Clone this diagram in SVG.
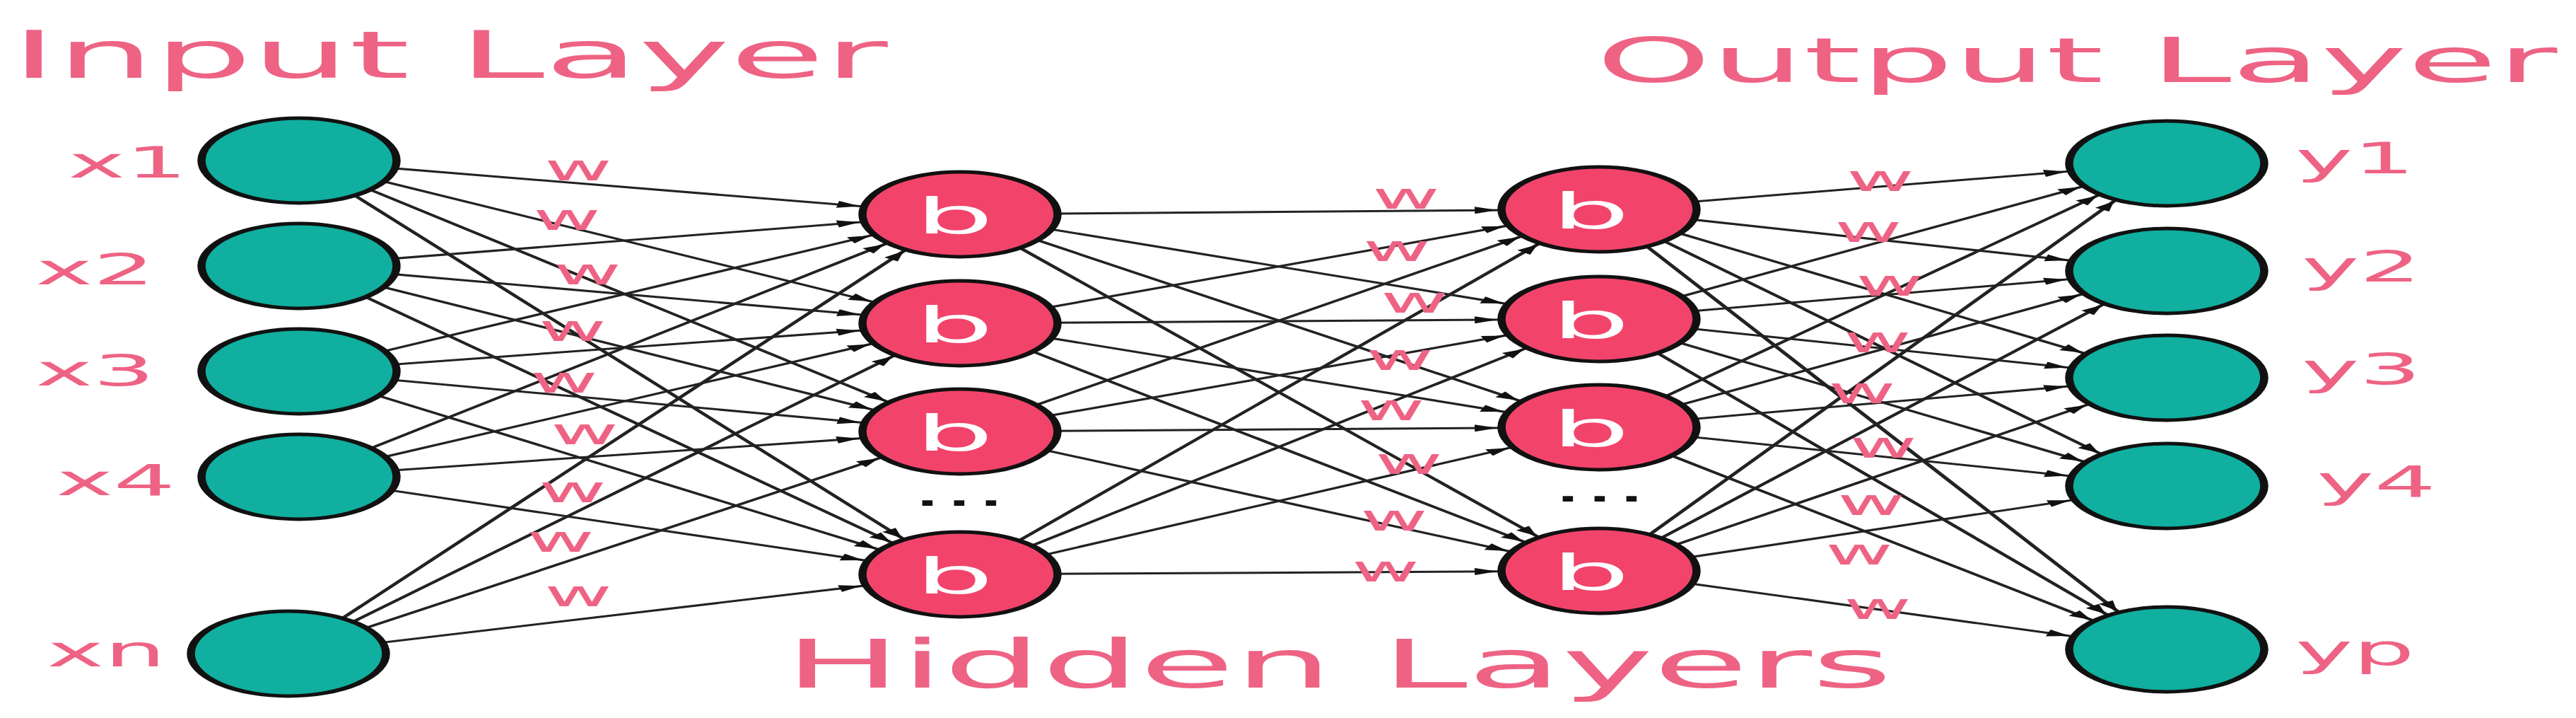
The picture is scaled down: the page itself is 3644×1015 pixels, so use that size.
<svg xmlns="http://www.w3.org/2000/svg" width="3644" height="1015" viewBox="0 0 3644 1015">
<style>
.t{font-family:"DejaVu Sans","Liberation Sans",sans-serif;fill:#EE6384;}
.title{font-size:93px;}
.lbl{font-size:60px;}
.w{font-size:51px;}
.b{font-family:"DejaVu Sans","Liberation Sans",sans-serif;fill:#ffffff;font-size:70px;text-anchor:middle;}
.dots{font-family:"DejaVu Sans","Liberation Sans",sans-serif;fill:#111;font-size:62px;text-anchor:middle;}
.io{fill:#10AF9F;stroke:#111;stroke-width:5;}
.hid{fill:#F2446B;stroke:#111;stroke-width:5;}
.edge line{stroke:#222;stroke-width:3;marker-end:url(#arr);}
</style>
<defs>
<marker id="arr" markerUnits="userSpaceOnUse" viewBox="0 0 80 12" markerWidth="80" markerHeight="12" refX="76.5" refY="6" orient="auto" overflow="visible">
<path d="M0,1 L14,6 L0,11 z" fill="#111"/>
</marker>
</defs>
<rect width="3644" height="1015" fill="#ffffff"/>

<g id="connectors" class="edge" transform="scale(2.3 1)">
<line x1="184" y1="227" x2="590.4" y2="303"/>
<line x1="184" y1="227" x2="590.4" y2="457"/>
<line x1="184" y1="227" x2="590.4" y2="610"/>
<line x1="184" y1="227" x2="590.4" y2="812"/>
<line x1="184" y1="376" x2="590.4" y2="303"/>
<line x1="184" y1="376" x2="590.4" y2="457"/>
<line x1="184" y1="376" x2="590.4" y2="610"/>
<line x1="184" y1="376" x2="590.4" y2="812"/>
<line x1="184" y1="525" x2="590.4" y2="303"/>
<line x1="184" y1="525" x2="590.4" y2="457"/>
<line x1="184" y1="525" x2="590.4" y2="610"/>
<line x1="184" y1="525" x2="590.4" y2="812"/>
<line x1="184" y1="674" x2="590.4" y2="303"/>
<line x1="184" y1="674" x2="590.4" y2="457"/>
<line x1="184" y1="674" x2="590.4" y2="610"/>
<line x1="184" y1="674" x2="590.4" y2="812"/>
<line x1="177.4" y1="924" x2="590.4" y2="303"/>
<line x1="177.4" y1="924" x2="590.4" y2="457"/>
<line x1="177.4" y1="924" x2="590.4" y2="610"/>
<line x1="177.4" y1="924" x2="590.4" y2="812"/>
<line x1="590.4" y1="303" x2="983.5" y2="296"/>
<line x1="590.4" y1="303" x2="983.5" y2="451"/>
<line x1="590.4" y1="303" x2="983.5" y2="604"/>
<line x1="590.4" y1="303" x2="983.5" y2="807"/>
<line x1="590.4" y1="457" x2="983.5" y2="296"/>
<line x1="590.4" y1="457" x2="983.5" y2="451"/>
<line x1="590.4" y1="457" x2="983.5" y2="604"/>
<line x1="590.4" y1="457" x2="983.5" y2="807"/>
<line x1="590.4" y1="610" x2="983.5" y2="296"/>
<line x1="590.4" y1="610" x2="983.5" y2="451"/>
<line x1="590.4" y1="610" x2="983.5" y2="604"/>
<line x1="590.4" y1="610" x2="983.5" y2="807"/>
<line x1="590.4" y1="812" x2="983.5" y2="296"/>
<line x1="590.4" y1="812" x2="983.5" y2="451"/>
<line x1="590.4" y1="812" x2="983.5" y2="604"/>
<line x1="590.4" y1="812" x2="983.5" y2="807"/>
<line x1="983.5" y1="296" x2="1332.6" y2="231"/>
<line x1="983.5" y1="296" x2="1332.6" y2="383"/>
<line x1="983.5" y1="296" x2="1332.6" y2="534"/>
<line x1="983.5" y1="296" x2="1332.6" y2="687"/>
<line x1="983.5" y1="296" x2="1332.6" y2="918"/>
<line x1="983.5" y1="451" x2="1332.6" y2="231"/>
<line x1="983.5" y1="451" x2="1332.6" y2="383"/>
<line x1="983.5" y1="451" x2="1332.6" y2="534"/>
<line x1="983.5" y1="451" x2="1332.6" y2="687"/>
<line x1="983.5" y1="451" x2="1332.6" y2="918"/>
<line x1="983.5" y1="604" x2="1332.6" y2="231"/>
<line x1="983.5" y1="604" x2="1332.6" y2="383"/>
<line x1="983.5" y1="604" x2="1332.6" y2="534"/>
<line x1="983.5" y1="604" x2="1332.6" y2="687"/>
<line x1="983.5" y1="604" x2="1332.6" y2="918"/>
<line x1="983.5" y1="807" x2="1332.6" y2="231"/>
<line x1="983.5" y1="807" x2="1332.6" y2="383"/>
<line x1="983.5" y1="807" x2="1332.6" y2="534"/>
<line x1="983.5" y1="807" x2="1332.6" y2="687"/>
<line x1="983.5" y1="807" x2="1332.6" y2="918"/>
</g>

<g id="weights" class="t w">
<text transform="translate(770 255) scale(2.3 1)">w</text>
<text transform="translate(754 325) scale(2.3 1)">w</text>
<text transform="translate(783 402) scale(2.3 1)">w</text>
<text transform="translate(762 482) scale(2.3 1)">w</text>
<text transform="translate(750 555) scale(2.3 1)">w</text>
<text transform="translate(779 628) scale(2.3 1)">w</text>
<text transform="translate(762 710) scale(2.3 1)">w</text>
<text transform="translate(745 780) scale(2.3 1)">w</text>
<text transform="translate(770 857) scale(2.3 1)">w</text>
<text transform="translate(1941 295) scale(2.3 1)">w</text>
<text transform="translate(1928 369) scale(2.3 1)">w</text>
<text transform="translate(1953 442) scale(2.3 1)">w</text>
<text transform="translate(1932 523) scale(2.3 1)">w</text>
<text transform="translate(1920 594) scale(2.3 1)">w</text>
<text transform="translate(1945 670) scale(2.3 1)">w</text>
<text transform="translate(1924 750) scale(2.3 1)">w</text>
<text transform="translate(1912 822) scale(2.3 1)">w</text>
<text transform="translate(2612 270) scale(2.3 1)">w</text>
<text transform="translate(2595 342) scale(2.3 1)">w</text>
<text transform="translate(2625 418) scale(2.3 1)">w</text>
<text transform="translate(2608 498) scale(2.3 1)">w</text>
<text transform="translate(2586 570) scale(2.3 1)">w</text>
<text transform="translate(2616 647) scale(2.3 1)">w</text>
<text transform="translate(2599 728) scale(2.3 1)">w</text>
<text transform="translate(2582 798) scale(2.3 1)">w</text>
<text transform="translate(2608 875) scale(2.3 1)">w</text>
</g>

<g id="titles" class="t title">
<text transform="translate(16 110) scale(2.341 1)">Input Layer</text>
<text font-size="88" transform="translate(2258 116) scale(2.348 1)">Output Layer</text>
<text font-size="94" transform="translate(1110 972) scale(2.323 1)">Hidden Layers</text>
</g>

<g id="input-layer">
<g id="x1"><circle class="io" r="60" transform="translate(423 227) scale(2.3 1)"/><text class="t lbl" transform="translate(96 251) scale(2.294 1)">x1</text></g>
<g id="x2"><circle class="io" r="60" transform="translate(423 376) scale(2.3 1)"/><text class="t lbl" transform="translate(50 402) scale(2.294 1)">x2</text></g>
<g id="x3"><circle class="io" r="60" transform="translate(423 525) scale(2.3 1)"/><text class="t lbl" transform="translate(50 545) scale(2.294 1)">x3</text></g>
<g id="x4"><circle class="io" r="60" transform="translate(423 674) scale(2.3 1)"/><text class="t lbl" transform="translate(79 700) scale(2.294 1)">x4</text></g>
<g id="xn"><circle class="io" r="60" transform="translate(408 924) scale(2.3 1)"/><text class="t lbl" transform="translate(66 942) scale(2.294 1)">xn</text></g>
</g>

<g id="hidden-layer-1">
<g id="h1-1"><circle class="hid" r="60" transform="translate(1358 303) scale(2.3 1)"/><text class="b" transform="translate(1350 330) scale(2.5 1)">b</text></g>
<g id="h1-2"><circle class="hid" r="60" transform="translate(1358 457) scale(2.3 1)"/><text class="b" transform="translate(1350 484) scale(2.5 1)">b</text></g>
<g id="h1-3"><circle class="hid" r="60" transform="translate(1358 610) scale(2.3 1)"/><text class="b" transform="translate(1350 637) scale(2.5 1)">b</text></g>
<text id="h1-dots" class="dots" transform="translate(1357 715) scale(2.28 1)">...</text>
<g id="h1-4"><circle class="hid" r="60" transform="translate(1358 812) scale(2.3 1)"/><text class="b" transform="translate(1350 839) scale(2.5 1)">b</text></g>
</g>

<g id="hidden-layer-2">
<g id="h2-1"><circle class="hid" r="60" transform="translate(2262 296) scale(2.3 1)"/><text class="b" transform="translate(2250 323) scale(2.5 1)">b</text></g>
<g id="h2-2"><circle class="hid" r="60" transform="translate(2262 451) scale(2.3 1)"/><text class="b" transform="translate(2250 478) scale(2.5 1)">b</text></g>
<g id="h2-3"><circle class="hid" r="60" transform="translate(2262 604) scale(2.3 1)"/><text class="b" transform="translate(2250 631) scale(2.5 1)">b</text></g>
<text id="h2-dots" class="dots" transform="translate(2263 709) scale(2.28 1)">...</text>
<g id="h2-4"><circle class="hid" r="60" transform="translate(2262 807) scale(2.3 1)"/><text class="b" transform="translate(2250 834) scale(2.5 1)">b</text></g>
</g>

<g id="output-layer">
<g id="y1"><circle class="io" r="60" transform="translate(3065 231) scale(2.3 1)"/><text class="t lbl" transform="translate(3247 245) scale(2.294 1)">y1</text></g>
<g id="y2"><circle class="io" r="60" transform="translate(3065 383) scale(2.3 1)"/><text class="t lbl" transform="translate(3256 398) scale(2.294 1)">y2</text></g>
<g id="y3"><circle class="io" r="60" transform="translate(3065 534) scale(2.3 1)"/><text class="t lbl" transform="translate(3256 543) scale(2.294 1)">y3</text></g>
<g id="y4"><circle class="io" r="60" transform="translate(3065 687) scale(2.3 1)"/><text class="t lbl" transform="translate(3277 702) scale(2.294 1)">y4</text></g>
<g id="yp"><circle class="io" r="60" transform="translate(3065 918) scale(2.3 1)"/><text class="t lbl" transform="translate(3247 940) scale(2.294 1)">yp</text></g>
</g>
</svg>
